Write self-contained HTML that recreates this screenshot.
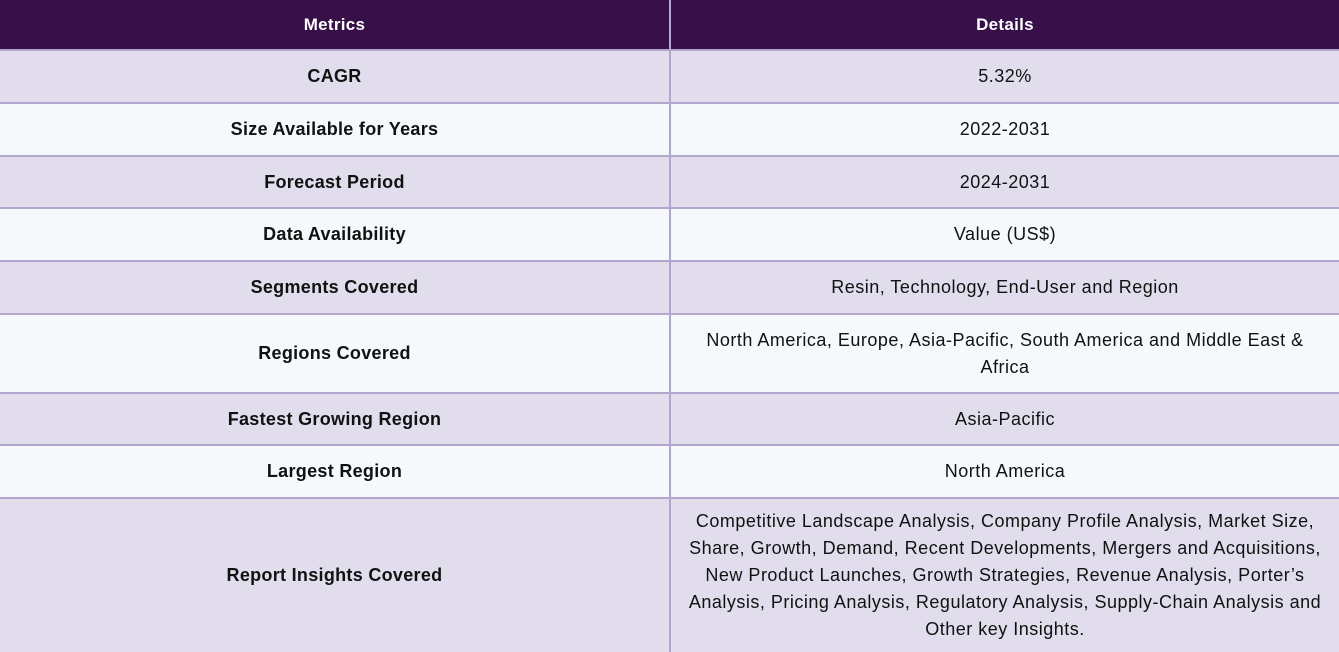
<!DOCTYPE html>
<html><head><meta charset="utf-8"><style>
body{margin:0;width:1339px;height:652px;overflow:hidden;background:#b3a6cc;font-family:"Liberation Sans",sans-serif;}
.c{position:absolute;display:flex;align-items:center;justify-content:center;text-align:center;font-size:18px;letter-spacing:0.5px;color:#111;line-height:27px;box-sizing:border-box;padding:0 2px;white-space:nowrap;}
.h{background:#37104a;color:#fff;font-weight:bold;font-size:17px;letter-spacing:0.3px;}
.o{background:#e1dded}.e{background:#f5f9fc}
.l{font-weight:bold;letter-spacing:0.3px}
</style></head><body>
<div id="t"></div>
<script>
const rows=[["CAGR","5.32%"],["Size Available for Years","2022-2031"],["Forecast Period","2024-2031"],["Data Availability","Value (US$)"],["Segments Covered","Resin, Technology, End-User and Region"],["Regions Covered","North America, Europe, Asia-Pacific, South America and Middle East &amp;<br>Africa"],["Fastest Growing Region","Asia-Pacific"],["Largest Region","North America"],["Report Insights Covered","Competitive Landscape Analysis, Company Profile Analysis, Market Size,<br>Share, Growth, Demand, Recent Developments, Mergers and Acquisitions,<br>New Product Launches, Growth Strategies, Revenue Analysis, Porter’s<br>Analysis, Pricing Analysis, Regulatory Analysis, Supply-Chain Analysis and<br>Other key Insights."]];
const tops=[0,51,104,157,209,262,315,394,446,499,652];
const t=document.getElementById('t');
function cell(x,w,y,h,cls,txt,name){const d=document.createElement('div');d.className='c '+cls;d.style.left=x+'px';d.style.top=y+'px';d.style.width=w+'px';d.style.height=h+'px';d.innerHTML='<span>'+txt+'</span>';


t.appendChild(d);}
cell(0,669,0,49,'h','Metrics','header-metrics');
cell(671,668,0,49,'h','Details','header-details');
rows.forEach((r,i)=>{const y=tops[i+1],h=tops[i+2]-y-(i==rows.length-1?0:2);const cls=i%2==0?'o':'e';
cell(0,669,y,h,cls+' l',r[0],'metric-label');
cell(671,668,y,h,cls,r[1],'metric-value');});
</script>
</body></html>
